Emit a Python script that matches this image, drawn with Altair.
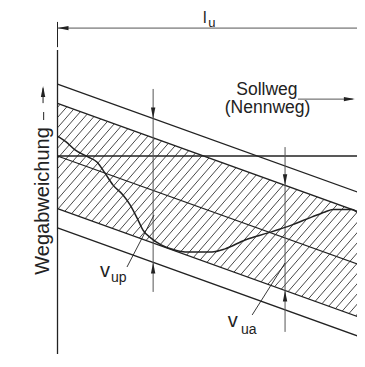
import altair as alt
import pandas as pd
import numpy as np

# ---- data (abstract units: Weg x 0..100, Abweichung y) ----
SLOPE = -0.36                       # Sollweg (Nennweg) slope
band_names = ["v_up oben", "v_ua oben", "Sollweg", "v_ua unten", "v_up unten"]
band_offsets = [23.4, 17.1, 0.0, -17.1, -23.4]
X0, X1 = 0.0, 100.0

curve_x = [0, 2.8, 5.7, 9.9, 12.9, 15.4, 18.0, 21.3, 23.6, 25.9, 27.8, 30.4, 33.7,
           38.2, 41.5, 50.2, 54.5, 61.0, 68.5, 76.3, 82.8, 87.0, 89.6, 95.8, 97.7, 100]
curve_y = [6.5, 4.6, 2.0, -0.3, -2.0, -5.5, -9.4, -12.7, -15.9, -20.2, -24.1, -26.7, -28.9,
           -30.6, -31.2, -31.2, -30.2, -27.3, -25.0, -22.4, -19.8, -18.2, -17.4, -17.4, -18.5, -19.8]

vup_x = 31.1     # position of v_up dimension
vua_x = 74.0     # position of v_ua dimension

INK = "#222222"
GREY = "#555555"
FONT = "Liberation Sans"

def band(off, x):
    return off + SLOPE * x

# ---- rules ----
rules = []
for off in band_offsets:
    rules.append(dict(x=X0, y=band(off, X0), x2=X1, y2=band(off, X1), c=INK, w=1.3))
rules.append(dict(x=X0, y=0.0, x2=X1, y2=0.0, c=INK, w=1.3))                 # horizontal
rules.append(dict(x=0.0, y=34.5, x2=0.0, y2=-68.6, c=INK, w=1.3))             # Weg axis
rules.append(dict(x=0.0, y=43.6, x2=0.0, y2=35.4, c=INK, w=1.0))              # tick l_u
rules.append(dict(x=0.0, y=41.6, x2=X1, y2=41.6, c=GREY, w=1.0))              # l_u dimension
rules.append(dict(x=78.2, y=18.5, x2=96.0, y2=18.5, c=GREY, w=1.0))           # Sollweg arrow
rules.append(dict(x=-4.7, y=17.2, x2=-4.7, y2=22.0, c=INK, w=1.0))            # Wegabw. arrow
rules.append(dict(x=-4.5, y=11.7, x2=-4.5, y2=14.3, c=INK, w=1.0))            # dash
rules.append(dict(x=vup_x, y=21.8, x2=vup_x, y2=-44.2, c=GREY, w=1.0))
rules.append(dict(x=vua_x, y=2.9, x2=vua_x, y2=-57.2, c=GREY, w=1.0))
rules.append(dict(x=22.6, y=-36.1, x2=31.4, y2=-19.2, c=INK, w=0.9))          # leader v_up
rules.append(dict(x=63.3, y=-51.7, x2=74.0, y2=-34.8, c=INK, w=0.9))          # leader v_ua
rules_df = pd.DataFrame(rules)

# ---- hatching of the v_ua band ----
m, step, inner = 1.15, 2.2, band_offsets[1]
hatch = []
for x0 in np.arange(-24.0, X1, step):
    ylow = -inner + SLOPE * x0
    xa, ya = x0, ylow
    xb = x0 + 2 * inner / (m - SLOPE)
    yb = ylow + m * (xb - x0)
    if xa < X0:
        xa, ya = X0, ylow + m * (X0 - x0)
    if xb > X1:
        xb, yb = X1, ylow + m * (X1 - x0)
    if xa < xb:
        hatch.append(dict(x=xa, y=ya, x2=xb, y2=yb))
hatch_df = pd.DataFrame(hatch)

# ---- arrow heads (angle: 0 down, 180 up, 90 left, 270 right) ----
heads_df = pd.DataFrame([
    dict(x=vup_x, y=band(band_offsets[0], vup_x), a=0),
    dict(x=vup_x, y=band(band_offsets[4], vup_x), a=180),
    dict(x=vua_x, y=band(band_offsets[1], vua_x), a=0),
    dict(x=vua_x, y=band(band_offsets[3], vua_x), a=180),
    dict(x=0.0, y=41.6, a=90),
    dict(x=96.7, y=18.5, a=270),
    dict(x=-4.7, y=22.8, a=180),
])

curve_df = pd.DataFrame({"x": curve_x, "y": curve_y, "i": range(len(curve_x))})

texts_main = pd.DataFrame([
    dict(x=47.3, y=43.4, t="l", s=16),
    dict(x=49.0, y=42.1, t="u", s=13),
    dict(x=13.8, y=-39.3, t="v", s=20),
    dict(x=17.4, y=-41.0, t="up", s=14),
    dict(x=55.4, y=-55.6, t="v", s=20),
    dict(x=59.7, y=-57.9, t="ua", s=14),
])
texts_center = pd.DataFrame([
    dict(x=68.1, y=19.9, t="Sollweg", s=17.5),
    dict(x=68.3, y=14.0, t="(Nennweg)", s=17.5),
])
texts_rot = pd.DataFrame([dict(x=-2.8, y=-14.6, t="Wegabweichung", s=20)])

# page pixels 8..357 (x) and 8..354 (y) at 3.075 px per unit
xs = alt.Scale(domain=[-16.1, 97.4], nice=False, zero=False)
ys = alt.Scale(domain=[-64.39, 48.13], nice=False, zero=False)
X = lambda f="x": alt.X(f + ":Q", scale=xs, axis=None)
Y = lambda f="y": alt.Y(f + ":Q", scale=ys, axis=None)

hatch_layer = alt.Chart(hatch_df).mark_rule(color="#333333", strokeWidth=0.9).encode(
    x=X(), y=Y(), x2="x2:Q", y2="y2:Q")
rule_layer = alt.Chart(rules_df).mark_rule().encode(
    x=X(), y=Y(), x2="x2:Q", y2="y2:Q",
    color=alt.Color("c:N", scale=None), strokeWidth=alt.StrokeWidth("w:Q", scale=None))
curve_layer = alt.Chart(curve_df).mark_line(color=INK, strokeWidth=1.5, interpolate="monotone").encode(
    x=X(), y=Y(), order="i:Q")
head_layer = alt.Chart(heads_df).mark_point(
    shape="M0,0L-0.2,-1L0.2,-1Z", filled=True, size=484, color=INK, opacity=1, strokeWidth=0
).encode(x=X(), y=Y(), angle=alt.Angle("a:Q", scale=None))
text1 = alt.Chart(texts_main).mark_text(align="left", baseline="alphabetic", font=FONT, color=INK).encode(
    x=X(), y=Y(), text="t:N", size=alt.Size("s:Q", scale=None))
text2 = alt.Chart(texts_center).mark_text(align="center", baseline="alphabetic", font=FONT, color=INK).encode(
    x=X(), y=Y(), text="t:N", size=alt.Size("s:Q", scale=None))
text3 = alt.Chart(texts_rot).mark_text(align="center", baseline="alphabetic", angle=270, font=FONT, color=INK).encode(
    x=X(), y=Y(), text="t:N", size=alt.Size("s:Q", scale=None))

chart = alt.layer(hatch_layer, rule_layer, curve_layer, head_layer, text1, text2, text3).properties(
    width=349, height=346, padding=0, autosize=alt.AutoSizeParams(type="none"),
    background="white"
).configure_view(stroke=None)

chart.save("out.html", embed_options={"renderer": "svg", "actions": False})
